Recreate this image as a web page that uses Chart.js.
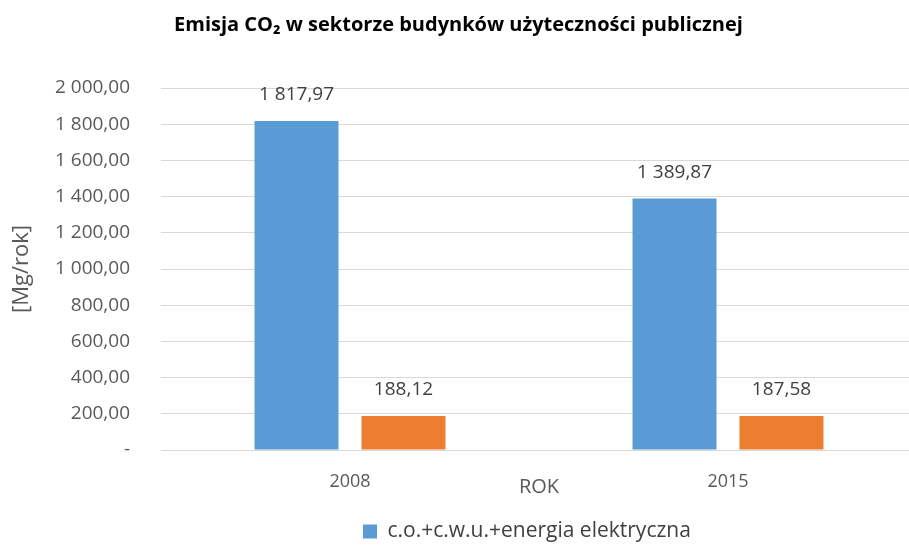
<!DOCTYPE html>
<html>
<head>
<meta charset="utf-8">
<script src="https://cdn.jsdelivr.net/npm/chart.js@4/dist/chart.umd.min.js"></script>
<style>
  html, body { margin: 0; padding: 0; background: #fff; overflow: hidden; }
  #wrap { width: 926px; height: 545px; }
</style>
</head>
<body>
<div id="wrap"><canvas id="emisjaChart" width="926" height="545"></canvas></div>
<script>
const years = ['2008', '2015'];
const coCwuValues = [1817.97, 1389.87];
const elektrycznaValues = [188.12, 187.58];
const seriesNames = ['c.o.+c.w.u.+energia elektryczna', 'energia elektryczna'];
const yTicks = [0, 200, 400, 600, 800, 1000, 1200, 1400, 1600, 1800, 2000];

const FONT = "'Open Sans', 'Noto Sans', sans-serif";

// 1 817,97 style numbers
function plNum(v) {
    let parts = Math.abs(v).toFixed(2).split('.');
    let intPart = parts[0].replace(/\B(?=(\d{3})+(?!\d))/g, ' ');
    return (v < 0 ? '-' : '') + intPart + ',' + parts[1];
}

const valueLabels = {
    id: 'valueLabels',
    afterDatasetsDraw(chart) {
        const ctx = chart.ctx;
        ctx.save();
        ctx.font = '19px ' + FONT;
        ctx.fillStyle = '#404040';
        ctx.textAlign = 'center';
        ctx.textBaseline = 'middle';
        chart.data.datasets.forEach(function (ds, i) {
            chart.getDatasetMeta(i).data.forEach(function (bar, j) {
                ctx.fillText(plNum(ds.data[j]), bar.x, bar.y - 26);
            });
        });
        ctx.restore();
    }
};

// legend starts under the middle of the plot like in the original
const legendShift = {
    id: 'legendShift',
    afterLayout(chart) {
        chart.legend.left = 363;
    }
};

new Chart(document.getElementById('emisjaChart'), {
    type: 'bar',
    data: {
        labels: years,
        datasets: [{
            label: seriesNames[0],
            data: coCwuValues,
            backgroundColor: '#5b9bd5',
            barPercentage: 0.785,
            categoryPercentage: 0.566
        }, {
            label: seriesNames[1],
            data: elektrycznaValues,
            backgroundColor: '#ed7d31',
            barPercentage: 0.785,
            categoryPercentage: 0.566
        }]
    },
    options: {
        responsive: false,
        animation: false,
        layout: { padding: { left: 0, right: 9, top: 0, bottom: -7 } },
        plugins: {
            title: {
                display: true,
                text: 'Emisja CO\u2082 w sektorze budynków użyteczności publicznej',
                color: '#000',
                font: { family: FONT, size: 20, weight: 'bold' },
                padding: { top: 13, bottom: 51 }
            },
            legend: {
                position: 'bottom',
                align: 'start',
                labels: {
                    color: '#404040',
                    font: { family: FONT, size: 21 },
                    boxWidth: 14,
                    boxHeight: 14,
                    padding: 0,
                    filter: function (item) { return item.datasetIndex === 0; }
                }
            },
            tooltip: { enabled: false }
        },
        scales: {
            x: {
                grid: { display: false, drawTicks: false },
                border: { display: false },
                ticks: { color: '#595959', font: { family: FONT, size: 18 }, padding: 21 },
                title: {
                    display: true,
                    text: 'ROK',
                    color: '#595959',
                    font: { family: FONT, size: 20 },
                    padding: { top: 22, bottom: 22 }
                },
                afterFit: function (scale) { scale.height = 71; }
            },
            y: {
                min: 0,
                max: 2000,
                afterBuildTicks: function (scale) {
                    scale.ticks = yTicks.map(function (v) { return { value: v }; });
                },
                grid: { color: '#d9d9d9', lineWidth: 1, drawTicks: false },
                border: { display: false },
                ticks: {
                    color: '#595959',
                    font: { family: FONT, size: 19 },
                    padding: 31,
                    callback: function (v) { return v === 0 ? '-' : plNum(v); }
                },
                title: {
                    display: true,
                    text: '[Mg/rok]',
                    color: '#595959',
                    font: { family: FONT, size: 22 },
                    padding: { top: 9, bottom: 9 }
                },
                afterFit: function (scale) { scale.width = 161; }
            }
        }
    },
    plugins: [valueLabels, legendShift]
});
</script>
</body>
</html>
